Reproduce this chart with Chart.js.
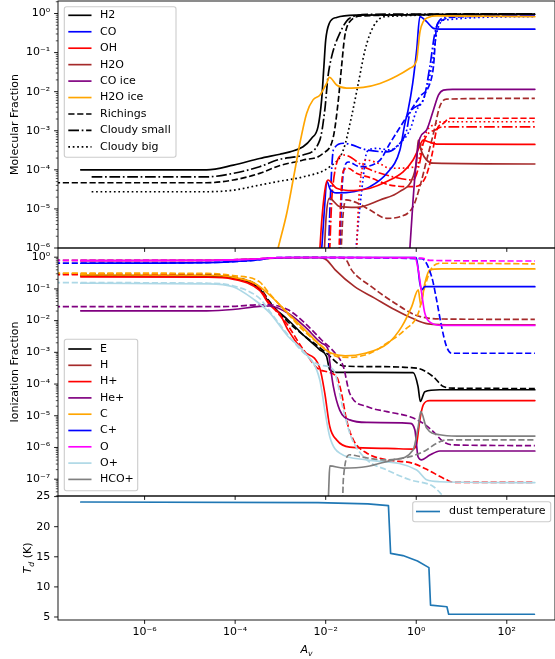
<!DOCTYPE html>
<html>
<head>
<meta charset="utf-8">
<script src="https://cdn.jsdelivr.net/npm/chart.js"></script>
<style>
  html, body { margin: 0; padding: 0; background: #fff; overflow: hidden; width: 555px; height: 659px; }
  canvas { position: absolute; left: 0; top: 0; }
</style>
</head>
<body>
<canvas id="mol" width="560" height="659"></canvas>
<canvas id="ion" width="560" height="659"></canvas>
<canvas id="dust" width="560" height="659"></canvas>
<script>
// ---- data: [log10 Av, log10 fraction] ----
// molecular fractions, this model
const molH2 = [[-7.41,-4.0],[-4.63,-4.0],[-4.04,-3.88],[-3.46,-3.71],[-3.01,-3.6],[-2.79,-3.54],[-2.5,-3.41],[-2.31,-3.19],[-2.17,-2.9],[-2.09,-2.21],[-2.04,-1.36],[-2.0,-0.68],[-1.92,-0.25],[-1.76,-0.1],[-1.32,-0.04],[2.62,-0.02]];
const molCO = [[-2.12,-6.6],[-2.04,-5.2],[-1.97,-4.3],[-1.9,-4.5],[-1.76,-4.59],[-1.39,-4.56],[-1.02,-4.43],[-0.65,-4.09],[-0.36,-3.49],[-0.25,-2.81],[-0.18,-2.47],[-0.08,-1.8],[0.01,-0.93],[0.08,-0.08],[0.23,-0.21],[0.38,-0.38],[0.52,-0.4],[2.62,-0.4]];
const molOH = [[-2.16,-6.6],[-2.08,-5.2],[-2.0,-4.4],[-1.95,-4.26],[-1.76,-4.47],[-1.39,-4.53],[-1.02,-4.47],[-0.65,-4.3],[-0.29,-4.05],[-0.07,-3.75],[0.04,-3.49],[0.155,-3.24],[0.265,-3.28],[0.45,-3.34],[2.62,-3.35]];
const molH2O = [[-2.05,-6.6],[-1.99,-5.2],[-1.92,-4.73],[-1.69,-4.94],[-1.32,-4.96],[-0.8,-4.77],[-0.36,-4.55],[-0.07,-4.18],[0.01,-3.75],[0.044,-3.24],[0.12,-3.54],[0.23,-3.75],[0.38,-3.83],[2.62,-3.85]];
const molCOice = [[-0.17,-6.6],[-0.14,-6.0],[-0.07,-4.77],[0.01,-3.66],[0.08,-3.19],[0.23,-2.98],[0.38,-2.47],[0.49,-2.09],[0.6,-1.96],[0.8,-1.94],[2.62,-1.94]];
const molH2Oice = [[-3.15,-6.5],[-3.05,-6.0],[-2.86,-5.11],[-2.72,-4.26],[-2.57,-3.32],[-2.42,-2.55],[-2.28,-2.21],[-2.13,-2.09],[-2.06,-1.96],[-1.98,-1.79],[-1.92,-1.63],[-1.76,-1.83],[-1.54,-1.91],[-1.17,-1.89],[-0.8,-1.79],[-0.43,-1.6],[-0.14,-1.4],[0.01,-1.19],[0.044,-0.85],[0.082,-0.47],[0.155,-0.21],[0.265,-0.1],[0.451,-0.06],[2.62,-0.08]];
// Richings
const richH2 = [[-8.2,-4.33],[-4.63,-4.33],[-4.04,-4.26],[-3.46,-4.09],[-3.01,-3.89],[-2.5,-3.75],[-2.06,-3.58],[-1.83,-3.15],[-1.72,-2.21],[-1.65,-1.36],[-1.58,-0.59],[-1.47,-0.21],[-1.17,-0.06],[2.62,-0.01]];
const richCO = [[-1.7,-6.6],[-1.64,-4.5],[-1.58,-3.92],[-1.5,-3.8],[-1.24,-3.92],[-0.8,-3.75],[-0.58,-3.32],[-0.21,-2.64],[0.08,-2.13],[0.3,-1.8],[0.38,-1.36],[0.45,-0.34],[0.52,-0.21],[0.75,-0.1],[2.62,-0.06]];
const richOH = [[-1.72,-6.6],[-1.66,-4.6],[-1.6,-4.0],[-1.5,-3.96],[-1.32,-4.09],[-1.02,-4.2],[-0.58,-4.39],[-0.07,-4.43],[0.2,-4.2],[0.35,-3.6],[0.45,-2.98],[0.6,-2.81],[0.75,-2.68],[2.62,-2.68]];
const richH2O = [[-1.68,-6.6],[-1.62,-5.2],[-1.55,-4.77],[-1.3,-4.85],[-1.02,-5.03],[-0.65,-5.24],[-0.36,-5.2],[-0.07,-4.94],[0.08,-4.43],[0.23,-3.75],[0.38,-3.07],[0.52,-2.38],[0.67,-2.19],[2.62,-2.17]];
// Cloudy, small grains
const smallH2 = [[-7.17,-4.18],[-4.63,-4.18],[-4.04,-4.09],[-3.46,-3.92],[-3.01,-3.73],[-2.5,-3.62],[-2.13,-3.24],[-2.02,-2.47],[-1.95,-1.62],[-1.87,-1.11],[-1.69,-0.51],[-1.47,-0.12],[-1.02,-0.02],[2.62,-0.01]];
const smallCO = [[-1.95,-6.6],[-1.9,-4.8],[-1.83,-3.49],[-1.61,-3.32],[-1.09,-3.49],[-0.65,-3.54],[-0.36,-3.32],[-0.21,-2.98],[-0.14,-2.55],[0.155,-2.21],[0.3,-1.36],[0.41,-0.51],[0.52,-0.17],[0.75,-0.08],[2.62,-0.06]];
const smallOH = [[-1.93,-6.6],[-1.85,-4.5],[-1.61,-3.62],[-1.09,-3.96],[-0.51,-4.18],[-0.07,-4.26],[0.08,-3.8],[0.155,-3.32],[0.45,-2.96],[0.6,-2.9],[2.62,-2.9]];
// Cloudy, big grains
const bigH2 = [[-7.17,-4.56],[-4.63,-4.56],[-4.04,-4.52],[-3.46,-4.39],[-3.01,-4.29],[-2.5,-4.18],[-1.91,-3.92],[-1.61,-3.49],[-1.43,-2.64],[-1.28,-1.79],[-1.13,-0.93],[-0.95,-0.34],[-0.69,-0.08],[2.62,-0.01]];
const bigCO = [[-1.37,-6.6],[-1.33,-6.0],[-1.17,-4.18],[-1.09,-3.54],[-0.88,-3.45],[-0.58,-3.49],[-0.36,-3.32],[-0.14,-2.98],[0.01,-2.47],[0.155,-2.21],[0.34,-1.36],[0.45,-0.51],[0.6,-0.17],[2.62,-0.08]];
const bigOH = [[-1.33,-6.6],[-1.28,-5.0],[-1.2,-4.0],[-1.1,-3.75],[-0.8,-3.85],[-0.58,-3.96],[0.01,-3.92],[0.12,-3.4],[0.23,-3.02],[0.45,-2.81],[0.6,-2.77],[2.62,-2.77]];

// ionization fractions: this model and Richings
const ionE = [[-7.41,-0.58],[-4.63,-0.59],[-4.05,-0.66],[-3.46,-1.0],[-3.24,-1.45],[-2.83,-1.98],[-2.46,-2.5],[-2.13,-2.92],[-1.98,-3.13],[-1.91,-3.55],[-1.76,-3.63],[-1.02,-3.63],[-0.07,-3.64],[0.04,-4.08],[0.09,-4.55],[0.19,-4.24],[0.52,-4.18],[2.62,-4.18]];
const ionERich = [[-8.2,-0.53],[-4.63,-0.54],[-4.05,-0.62],[-3.46,-0.95],[-3.24,-1.4],[-2.86,-2.0],[-2.5,-2.45],[-2.13,-2.85],[-1.98,-3.03],[-1.61,-3.43],[-1.02,-3.45],[0.01,-3.5],[0.376,-3.77],[0.6,-4.08],[0.82,-4.13],[2.62,-4.14]];
const ionH = [[-7.41,-0.11],[-4.63,-0.1],[-4.05,-0.08],[-3.46,-0.05],[-3.01,-0.02],[-2.2,-0.01],[-1.98,-0.09],[-1.79,-0.4],[-1.36,-0.93],[-0.92,-1.29],[-0.47,-1.66],[-0.1,-1.92],[0.26,-2.1],[0.85,-2.13],[2.62,-2.13]];
const ionHRich = [[-8.2,-0.1],[-4.63,-0.1],[-4.05,-0.08],[-3.46,-0.05],[-3.01,-0.02],[-1.7,-0.01],[-1.54,-0.1],[-1.43,-0.4],[-0.99,-0.93],[-0.47,-1.45],[-0.03,-1.82],[0.26,-1.92],[0.6,-1.95],[2.62,-1.96]];
const ionHp = [[-7.41,-0.62],[-4.63,-0.63],[-4.05,-0.69],[-3.46,-1.05],[-3.24,-1.5],[-3.01,-1.8],[-2.83,-2.3],[-2.5,-2.95],[-2.13,-3.5],[-2.02,-4.29],[-1.91,-5.34],[-1.76,-5.76],[-1.47,-5.99],[-0.65,-6.03],[-0.07,-6.05],[0.01,-5.87],[0.08,-5.13],[0.155,-4.66],[0.3,-4.52],[2.62,-4.52]];
const ionHpRich = [[-8.2,-0.55],[-4.63,-0.57],[-4.05,-0.64],[-3.46,-0.98],[-3.24,-1.45],[-2.86,-2.1],[-2.5,-2.9],[-2.13,-3.55],[-1.76,-3.77],[-1.65,-4.29],[-1.54,-5.13],[-1.39,-5.76],[-1.09,-6.18],[-0.65,-6.39],[-0.07,-6.5],[0.23,-6.69],[0.67,-7.02],[0.82,-7.1],[2.62,-7.1]];
const ionHep = [[-7.41,-1.69],[-4.63,-1.69],[-4.05,-1.65],[-3.46,-1.55],[-3.24,-1.54],[-2.83,-1.77],[-2.46,-2.19],[-2.09,-2.71],[-1.945,-2.92],[-1.91,-3.3],[-1.83,-4.08],[-1.69,-4.82],[-1.47,-5.13],[-1.09,-5.21],[-0.14,-5.24],[-0.03,-5.45],[0.04,-6.29],[0.12,-6.39],[0.3,-6.24],[0.52,-6.11],[2.62,-6.11]];
const ionHepRich = [[-8.2,-1.56],[-4.63,-1.56],[-4.05,-1.55],[-3.46,-1.5],[-3.24,-1.5],[-2.83,-1.66],[-2.46,-2.08],[-2.09,-2.61],[-1.79,-3.03],[-1.61,-3.45],[-1.47,-4.29],[-1.09,-4.71],[-0.65,-4.87],[-0.14,-5.03],[0.155,-5.24],[0.376,-5.5],[0.6,-5.82],[0.82,-5.92],[2.62,-5.94]];
const ionC = [[-7.41,-0.56],[-4.63,-0.57],[-4.05,-0.63],[-3.57,-0.82],[-3.2,-1.24],[-2.83,-1.77],[-2.46,-2.29],[-2.09,-2.82],[-1.87,-3.03],[-1.57,-3.11],[-1.13,-3.03],[-0.62,-2.71],[-0.32,-2.19],[-0.1,-1.56],[0.044,-1.03],[0.1,-1.5],[0.19,-0.82],[0.3,-0.4],[0.56,-0.37],[2.62,-0.37]];
const ionCRich = [[-8.2,-0.5],[-4.63,-0.51],[-4.05,-0.58],[-3.46,-0.78],[-3.24,-1.15],[-2.86,-1.75],[-2.5,-2.3],[-2.13,-2.75],[-1.76,-3.13],[-1.5,-3.16],[-1.02,-3.03],[-0.65,-2.71],[-0.25,-2.29],[0.044,-1.77],[0.19,-0.93],[0.34,-0.35],[0.56,-0.19],[2.62,-0.21]];
const ionCp = [[-7.41,-0.19],[-4.63,-0.17],[-4.05,-0.14],[-3.46,-0.08],[-3.2,-0.02],[-2.8,-0.01],[0.0,-0.01],[0.08,-0.82],[0.12,-1.03],[0.19,-0.93],[2.62,-0.93]];
const ionCpRich = [[-8.2,-0.19],[-4.63,-0.17],[-4.05,-0.14],[-3.46,-0.08],[-3.2,-0.02],[-2.8,-0.01],[0.12,-0.05],[0.34,-0.61],[0.45,-1.35],[0.56,-2.19],[0.67,-2.82],[0.78,-3.03],[2.62,-3.03]];
const ionO = [[-7.41,-0.11],[-4.63,-0.1],[-4.05,-0.08],[-3.46,-0.05],[-3.2,-0.02],[-2.8,-0.01],[-0.03,-0.01],[0.044,-0.4],[0.12,-1.14],[0.19,-1.77],[0.34,-2.08],[0.56,-2.15],[2.62,-2.15]];
const ionORich = [[-8.2,-0.1],[-4.63,-0.1],[-4.05,-0.08],[-3.46,-0.05],[-3.2,-0.02],[-2.8,-0.01],[0.12,-0.03],[0.3,-0.1],[2.62,-0.12]];
const ionOp = [[-7.41,-0.82],[-4.63,-0.84],[-4.05,-0.93],[-3.57,-1.35],[-3.24,-1.75],[-2.83,-2.5],[-2.5,-2.95],[-2.13,-3.87],[-2.02,-4.82],[-1.91,-5.66],[-1.69,-6.18],[-1.09,-6.39],[0.01,-6.71],[0.23,-7.02],[0.52,-7.08],[2.62,-7.11]];
const ionOpRich = [[-8.2,-0.8],[-4.63,-0.82],[-4.05,-0.9],[-3.46,-1.3],[-3.24,-1.7],[-2.86,-2.4],[-2.5,-3.0],[-2.13,-3.4],[-1.83,-3.55],[-1.61,-4.82],[-1.43,-5.7],[-1.09,-6.39],[-0.65,-6.71],[-0.14,-7.02],[0.376,-7.23],[0.6,-7.55],[0.8,-7.9]];
const ionHCOp = [[-1.95,-8.0],[-1.93,-7.2],[-1.91,-6.58],[-1.61,-6.65],[-1.09,-6.6],[-0.51,-6.39],[-0.07,-6.08],[0.044,-5.34],[0.1,-4.87],[0.23,-5.39],[0.52,-5.6],[0.9,-5.64],[2.62,-5.64]];
const ionHCOpRich = [[-1.63,-8.0],[-1.61,-7.0],[-1.47,-6.23],[-1.2,-6.3],[-0.73,-6.39],[-0.14,-6.29],[0.2,-6.1],[0.45,-5.87],[0.67,-5.76],[2.62,-5.76]];

// dust temperature (K) against log10 Av
const dustLogAv = [-7.41, -2.17, -1.07, -0.614, -0.566, -0.294, 0.027, 0.28, 0.316, 0.678, 0.716, 2.61];
const dustTemp  = [24.1, 24.0, 23.8, 23.5, 15.56, 15.2, 14.3, 13.2, 6.96, 6.7, 5.46, 5.46];

// axis limits and tick decades
const X_LIMITS = [-7.913, 3.065];
const X_DECADES = [-6, -4, -2, 0, 2];
const MOL_LIMITS = [-6, 0.32];
const MOL_DECADES = [-6, -5, -4, -3, -2, -1, 0];
const ION_LIMITS = [-7.53, 0.29];
const ION_DECADES = [-7, -6, -5, -4, -3, -2, -1, 0];
const TEMP_LIMITS = [4.5, 25.1];
const TEMP_TICKS = [5, 10, 15, 20, 25];

// legend entries: [label, colour, line style]
const molLegend = [
  ['H2', 'black', 'solid'], ['CO', 'blue', 'solid'], ['OH', 'red', 'solid'],
  ['H2O', 'brown', 'solid'], ['CO ice', 'purple', 'solid'], ['H2O ice', 'orange', 'solid'],
  ['Richings', 'black', 'dashed'], ['Cloudy small', 'black', 'dashdot'], ['Cloudy big', 'black', 'dotted']
];
const ionLegend = [
  ['E', 'black', 'solid'], ['H', 'brown', 'solid'], ['H+', 'red', 'solid'],
  ['He+', 'purple', 'solid'], ['C', 'orange', 'solid'], ['C+', 'blue', 'solid'],
  ['O', 'magenta', 'solid'], ['O+', 'lightblue', 'solid'], ['HCO+', 'gray', 'solid']
];
const dustLegend = [['dust temperature', '#1f77b4', 'solid']];

// ---- styling ----
const FAMILY = "'DejaVu Sans', sans-serif";
const LW = 1.67;
const DASH = { solid: [], dashed: [6.2, 2.7], dashdot: [10.7, 2.7, 1.7, 2.7], dotted: [1.7, 2.75] };
const CANVAS_W = 560, PLOT_RIGHT = 555, AXIS_W = 58;
const TICK_FONT = { family: FAMILY, size: 11 };

const SUP = { '-': '\u207B', '0': '\u2070', '1': '\u00B9', '2': '\u00B2', '3': '\u00B3', '4': '\u2074', '5': '\u2075', '6': '\u2076', '7': '\u2077', '8': '\u2078', '9': '\u2079' };
const pow10Label = v => '10' + String(Math.round(Math.log10(v))).split('').map(c => SUP[c]).join('');

function series(pairs, color, style) {
  return {
    data: pairs.map(([lx, ly]) => ({ x: 10 ** lx, y: 10 ** ly })),
    borderColor: color, borderWidth: LW, borderDash: DASH[style],
    borderCapStyle: style === 'solid' ? 'round' : 'butt', borderJoinStyle: 'round',
    pointRadius: 0, pointHoverRadius: 0, fill: false,
    cubicInterpolationMode: 'monotone', clip: 0
  };
}
function stack(list) { list.forEach((d, i) => { d.order = -i; }); return list; }

function drawLegend(ctx, L) {
  ctx.save();
  ctx.beginPath();
  ctx.roundRect(L.x, L.y, L.w, L.h, 2.2);
  ctx.fillStyle = 'rgba(255,255,255,0.8)';
  ctx.fill();
  ctx.setLineDash([]);
  ctx.strokeStyle = '#cccccc';
  ctx.lineWidth = 1.1;
  ctx.stroke();
  ctx.font = '11px ' + FAMILY;
  ctx.textBaseline = 'middle';
  ctx.textAlign = 'left';
  L.rows.forEach(([label, color, style], i) => {
    const y = L.row0 + i * L.step;
    ctx.beginPath();
    ctx.setLineDash(DASH[style]);
    ctx.lineCap = 'butt';
    ctx.strokeStyle = color;
    ctx.lineWidth = LW;
    ctx.moveTo(L.hx0, y);
    ctx.lineTo(L.hx1, y);
    ctx.stroke();
    ctx.setLineDash([]);
    ctx.fillStyle = '#000';
    ctx.fillText(label, L.tx, y);
  });
  ctx.restore();
}

function drawTitle(ctx, t) {
  ctx.save();
  ctx.translate(t.x, t.y);
  if (t.rotate) ctx.rotate(-Math.PI / 2);
  ctx.fillStyle = '#000';
  ctx.textBaseline = 'alphabetic';
  ctx.textAlign = 'left';
  const fonts = t.parts.map(([, italic, size]) => (italic ? 'italic ' : '') + size + 'px ' + FAMILY);
  const widths = t.parts.map(([s], i) => { ctx.font = fonts[i]; return ctx.measureText(s).width; });
  let cx = -widths.reduce((a, b) => a + b, 0) / 2;
  t.parts.forEach(([s, , , dy], i) => {
    ctx.font = fonts[i];
    ctx.fillText(s, cx, dy);
    cx += widths[i];
  });
  ctx.restore();
}

// frame, tick marks, in-axes legend and axis titles
const decor = {
  id: 'decor',
  afterDatasetsDraw(chart, args, o) {
    const { ctx, chartArea: a } = chart;
    const xs = chart.scales.x, ys = chart.scales.y;
    ctx.save();
    ctx.setLineDash([]);
    ctx.strokeStyle = '#000';
    ctx.lineWidth = 0.9;
    ctx.beginPath();
    X_DECADES.forEach(n => {
      const p = xs.getPixelForValue(10 ** n);
      ctx.moveTo(p, a.bottom); ctx.lineTo(p, a.bottom + 3.9);
    });
    o.yMajor.forEach(v => {
      const p = ys.getPixelForValue(v);
      ctx.moveTo(a.left, p); ctx.lineTo(a.left - 3.9, p);
    });
    ctx.stroke();
    if (o.logY) {
      ctx.lineWidth = 0.67;
      ctx.beginPath();
      const lo = Math.floor(Math.log10(ys.min)), hi = Math.ceil(Math.log10(ys.max));
      for (let n = lo; n <= hi; n++) {
        for (let k = 2; k <= 9; k++) {
          const v = k * 10 ** n;
          if (v < ys.min || v > ys.max) continue;
          const p = ys.getPixelForValue(v);
          ctx.moveTo(a.left, p); ctx.lineTo(a.left - 2.2, p);
        }
      }
      ctx.stroke();
    }
    ctx.lineWidth = 0.9;
    ctx.strokeRect(a.left, a.top, a.right - a.left, a.bottom - a.top);
    drawLegend(ctx, o.legend);
    o.titles.forEach(t => drawTitle(ctx, t));
    ctx.restore();
  }
};

function xScale(show) {
  return {
    type: 'logarithmic', min: 10 ** X_LIMITS[0], max: 10 ** X_LIMITS[1], display: show,
    grid: { display: false, drawTicks: false }, border: { display: false },
    ticks: { callback: pow10Label, font: TICK_FONT, color: '#000', padding: 6, autoSkip: false, maxRotation: 0, minRotation: 0 },
    afterBuildTicks: s => { s.ticks = X_DECADES.map(n => ({ value: 10 ** n })); },
    afterFit: s => { s.height = show ? 39 : 0; s.paddingLeft = 0; s.paddingRight = 0; }
  };
}
function logYScale(limits, decades) {
  return {
    type: 'logarithmic', min: 10 ** limits[0], max: 10 ** limits[1],
    grid: { display: false, drawTicks: false }, border: { display: false },
    ticks: { callback: pow10Label, font: TICK_FONT, color: '#000', padding: 7.8, autoSkip: false },
    afterBuildTicks: s => { s.ticks = decades.map(n => ({ value: 10 ** n })); },
    afterFit: s => { s.width = AXIS_W; s.paddingTop = 0; s.paddingBottom = 0; }
  };
}

function panel(id, datasets, yOpts, padTop, padBottom, showX, decorOpts) {
  return new Chart(document.getElementById(id), {
    type: 'line',
    data: { datasets },
    options: {
      responsive: false, animation: false, devicePixelRatio: 1, events: [],
      layout: { padding: { left: 0, right: CANVAS_W - PLOT_RIGHT, top: padTop, bottom: padBottom } },
      plugins: { legend: { display: false }, tooltip: { enabled: false }, decor: decorOpts },
      scales: { x: xScale(showX), y: yOpts }
    },
    plugins: [decor]
  });
}

// ---- molecular fraction panel ----
panel('mol', stack([
  series(bigH2, 'black', 'dotted'), series(bigCO, 'blue', 'dotted'), series(bigOH, 'red', 'dotted'),
  series(smallH2, 'black', 'dashdot'), series(smallCO, 'blue', 'dashdot'), series(smallOH, 'red', 'dashdot'),
  series(richH2, 'black', 'dashed'), series(richCO, 'blue', 'dashed'), series(richOH, 'red', 'dashed'), series(richH2O, 'brown', 'dashed'),
  series(molH2, 'black', 'solid'), series(molCO, 'blue', 'solid'), series(molOH, 'red', 'solid'),
  series(molH2O, 'brown', 'solid'), series(molCOice, 'purple', 'solid'), series(molH2Oice, 'orange', 'solid')
]), logYScale(MOL_LIMITS, MOL_DECADES), 1, 659 - 248, false, {
  logY: true,
  yMajor: MOL_DECADES.map(n => 10 ** n),
  legend: { x: 64.3, y: 6.7, w: 111.7, h: 150.6, row0: 15.3, step: 16.45, hx0: 68.3, hx1: 91.5, tx: 100, rows: molLegend },
  titles: [{ x: 14.2, y: 124.5, rotate: true, parts: [['Molecular Fraction', false, 11, 4]] }]
});

// ---- ionization fraction panel ----
const ionSets = [];
[[ionE, ionERich, 'black'], [ionH, ionHRich, 'brown'], [ionHp, ionHpRich, 'red'], [ionHep, ionHepRich, 'purple'],
 [ionC, ionCRich, 'orange'], [ionCp, ionCpRich, 'blue'], [ionO, ionORich, 'magenta'],
 [ionOp, ionOpRich, 'lightblue'], [ionHCOp, ionHCOpRich, 'gray']].forEach(([own, rich, color]) => {
  ionSets.push(series(own, color, 'solid'), series(rich, color, 'dashed'));
});
panel('ion', stack(ionSets), logYScale(ION_LIMITS, ION_DECADES), 248, 659 - 496, false, {
  logY: true,
  yMajor: ION_DECADES.map(n => 10 ** n),
  legend: { x: 64.3, y: 339.3, w: 73.4, h: 151.4, row0: 349, step: 16.3, hx0: 68.3, hx1: 91.5, tx: 100, rows: ionLegend },
  titles: [{ x: 14.2, y: 372, rotate: true, parts: [['Ionization Fraction', false, 11, 4]] }]
});

// ---- dust temperature panel ----
panel('dust', [{
  data: dustLogAv.map((lx, i) => ({ x: 10 ** lx, y: dustTemp[i] })),
  borderColor: '#1f77b4', borderWidth: LW, borderJoinStyle: 'round', borderCapStyle: 'round',
  pointRadius: 0, pointHoverRadius: 0, fill: false, tension: 0, clip: 0
}], {
  type: 'linear', min: TEMP_LIMITS[0], max: TEMP_LIMITS[1],
  grid: { display: false, drawTicks: false }, border: { display: false },
  ticks: { callback: v => String(v), font: TICK_FONT, color: '#000', padding: 7.8, autoSkip: false },
  afterBuildTicks: s => { s.ticks = TEMP_TICKS.map(v => ({ value: v })); },
  afterFit: s => { s.width = AXIS_W; s.paddingTop = 0; s.paddingBottom = 0; }
}, 496, 0, true, {
  logY: false,
  yMajor: TEMP_TICKS,
  legend: { x: 412.7, y: 501.7, w: 138, h: 20, row0: 511.5, step: 16.3, hx0: 416, hx1: 440, tx: 449, rows: dustLegend },
  titles: [
    { x: 27, y: 558, rotate: true, parts: [['T', true, 11, 4], ['d', true, 7.7, 6.5], [' (K)', false, 11, 4]] },
    { x: 306.5, y: 653, rotate: false, parts: [['A', true, 11, 0], ['v', true, 7.7, 2.5]] }
  ]
});
</script>
</body>
</html>
